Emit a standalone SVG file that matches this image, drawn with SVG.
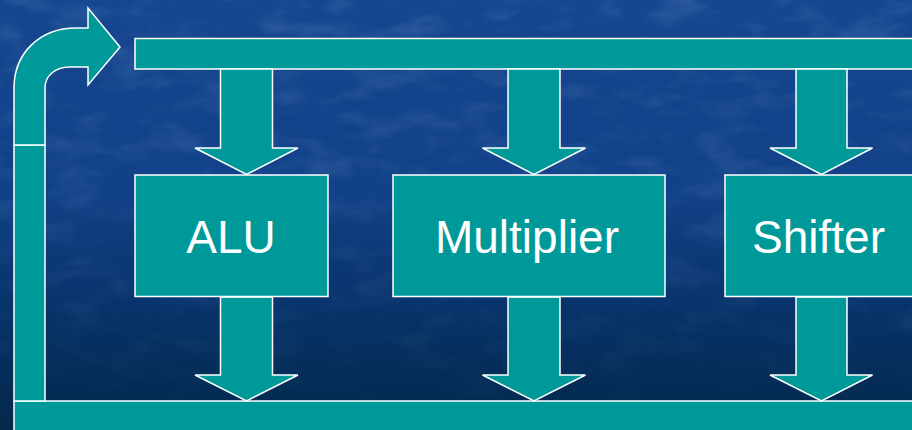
<svg xmlns="http://www.w3.org/2000/svg" width="912" height="430" viewBox="0 0 912 430">
  <defs>
    <linearGradient id="bg" x1="0" y1="0" x2="0" y2="1">
      <stop offset="0" stop-color="#15468f"/>
      <stop offset="0.45" stop-color="#114187"/>
      <stop offset="0.72" stop-color="#07336a"/>
      <stop offset="1" stop-color="#03284a"/>
    </linearGradient>
    <filter id="grain" x="0" y="0" width="100%" height="100%">
      <feTurbulence type="fractalNoise" baseFrequency="0.02 0.045" numOctaves="3" seed="7"/>
      <feColorMatrix type="matrix" values="0 0 0 0 0.35  0 0 0 0 0.55  0 0 0 0 0.85  0 0 0 1.3 -0.6"/>
    </filter>
    <linearGradient id="fade" x1="0" y1="0" x2="0" y2="1">
      <stop offset="0" stop-color="#fff" stop-opacity="1"/>
      <stop offset="0.6" stop-color="#fff" stop-opacity="0.6"/>
      <stop offset="1" stop-color="#fff" stop-opacity="0.05"/>
    </linearGradient>
    <mask id="fadeMask">
      <rect width="912" height="430" fill="url(#fade)"/>
    </mask>
  </defs>
  <style>
    .shape { fill: #009999; stroke: #ffffff; stroke-width: 1.5; stroke-linejoin: miter; }
    .label { font-family: "Liberation Sans", Arial, sans-serif; font-size: 46px; fill: #ffffff; }
  </style>

  <!-- background -->
  <rect width="912" height="430" fill="url(#bg)"/>
  <rect width="912" height="430" filter="url(#grain)" mask="url(#fadeMask)" opacity="0.3"/>

  <!-- buses and data-flow arrows -->
  <g id="connectors">
    <!-- top bus -->
    <rect class="shape" x="135" y="38.5" width="790" height="30.5"/>
    <!-- bottom bus -->
    <rect class="shape" x="14" y="401" width="911" height="40"/>
    <!-- return path: vertical riser and bent arrow into top bus -->
    <rect class="shape" x="14" y="145" width="31" height="256"/>
    <path class="shape" d="M14,145 L14,88 C14,53 40,28 76,28 L88,28 L88,8 L120,47 L88,85 L88,67 L70,67 C55,67 45,76 45,88 L45,145 Z"/>
    <!-- top bus to units -->
    <path class="shape" d="M220.5,69 L272.5,69 L272.5,148 L298,148 L246.5,174.5 L195,148 L220.5,148 Z"/>
    <path class="shape" d="M508,69 L560,69 L560,148 L585.5,148 L534,174.5 L482.5,148 L508,148 Z"/>
    <path class="shape" d="M796,69 L847,69 L847,148 L872.5,148 L821.5,174.5 L770,148 L796,148 Z"/>
    <!-- units to bottom bus -->
    <path class="shape" d="M220.5,297 L272.5,297 L272.5,375 L298,375 L246.5,401 L195,375 L220.5,375 Z"/>
    <path class="shape" d="M508,297 L560,297 L560,375 L585.5,375 L534,401 L482.5,375 L508,375 Z"/>
    <path class="shape" d="M796,297 L847,297 L847,375 L872.5,375 L821.5,401 L770,375 L796,375 Z"/>
  </g>

  <g id="alu">
    <rect class="shape" x="135" y="175" width="193" height="121.5"/>
    <text class="label" x="231" y="253" text-anchor="middle">ALU</text>
  </g>

  <g id="multiplier">
    <rect class="shape" x="393" y="175" width="272" height="121.5"/>
    <text class="label" x="527" y="253" text-anchor="middle">Multiplier</text>
  </g>

  <g id="shifter">
    <rect class="shape" x="725" y="175" width="200" height="121.5"/>
    <text class="label" x="752" y="253">Shifter</text>
  </g>
</svg>
